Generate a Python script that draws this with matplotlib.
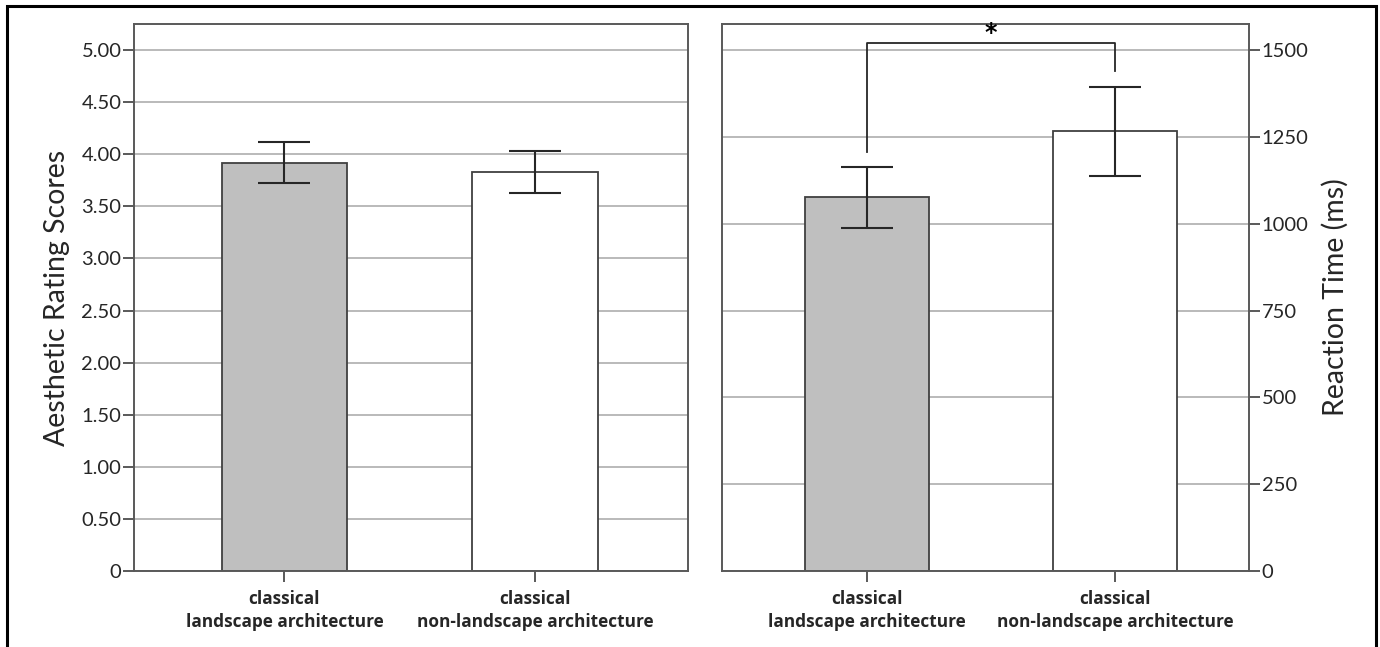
import matplotlib.pyplot as plt
from matplotlib.patches import Rectangle

plt.rcParams['font.family'] = ['Lato', 'DejaVu Sans']

categories = ['classical\nlandscape architecture', 'classical\nnon-landscape architecture']
rating = [3.92, 3.83]
rating_err = [0.20, 0.20]
rt = [1077, 1267]
rt_lo = [988, 1137]
rt_hi = [1163, 1393]
rating_ticks = [0, 0.5, 1.0, 1.5, 2.0, 2.5, 3.0, 3.5, 4.0, 4.5, 5.0]
rt_ticks = [0, 250, 500, 750, 1000, 1250, 1500]
bar_colors = ['#bfbfbf', 'white']

spine_c = '#595959'
text_c = '#262626'
grid_c = '#b4b4b4'


def style(ax, ticks, side):
    ax.set_yticks(ticks)
    ax.set_xticks([0, 1])
    ax.yaxis.grid(True, color=grid_c, linewidth=1.3)
    ax.set_axisbelow(True)
    for s in ax.spines.values():
        s.set_color(spine_c)
        s.set_linewidth(1.4)
    ax.tick_params(axis='both', length=8, width=1.4, color=spine_c,
                   labelcolor=text_c)
    ax.tick_params(axis='y', labelsize=14.5, pad=1)
    ax.tick_params(axis='x', pad=6)
    ax.set_xticklabels(categories, fontsize=12.4, fontweight='bold', color=text_c,
                       linespacing=1.3, family=['Open Sans', 'DejaVu Sans'])
    if side == 'right':
        ax.yaxis.tick_right()
        ax.yaxis.set_label_position('right')


fig = plt.figure(figsize=(13.8, 6.47), dpi=100)

ax1 = fig.add_axes([0.0971, 0.1175, 0.4014, 0.8454])
ax1.bar([0, 1], rating, width=0.5, color=bar_colors, edgecolor='#404040', linewidth=1.3)
ax1.errorbar([0, 1], rating, yerr=rating_err, fmt='none', ecolor=text_c,
             elinewidth=1.5, capsize=18.5, capthick=1.5)
ax1.set_ylim(0, 5.25)
ax1.set_xlim(-0.6, 1.61)
style(ax1, rating_ticks, 'left')
ax1.set_yticklabels(['0'] + ['%.2f' % t for t in rating_ticks[1:]])
ax1.set_ylabel('Aesthetic Rating Scores', fontsize=20.5, color=text_c, labelpad=8)

ax2 = fig.add_axes([0.5232, 0.1175, 0.3819, 0.8454])
ax2.bar([0, 1], rt, width=0.5, color=bar_colors, edgecolor='#404040', linewidth=1.3)
err = [[rt[i] - rt_lo[i] for i in range(2)], [rt_hi[i] - rt[i] for i in range(2)]]
ax2.errorbar([0, 1], rt, yerr=err, fmt='none', ecolor=text_c,
             elinewidth=1.5, capsize=19, capthick=1.5)
ax2.set_ylim(0, 1575)
ax2.set_xlim(-0.585, 1.54)
style(ax2, rt_ticks, 'right')
ax2.set_ylabel('Reaction Time (ms)', fontsize=20.5, color=text_c, labelpad=10)

# significance bracket
ax2.plot([0, 0, 1, 1], [1206, 1520, 1520, 1440], color=text_c, linewidth=1.3)
ax2.text(0.5, 1549, '*', ha='center', va='center', fontsize=17, fontweight='bold',
         color='black', family='DejaVu Sans')

# outer frame
fig.patches.append(Rectangle((7 / 1380, -0.05), 1369 / 1380, 1.05 - 6 / 647,
                             transform=fig.transFigure, fill=False,
                             edgecolor='black', linewidth=2.2))

fig.savefig('out.png', dpi=100)
